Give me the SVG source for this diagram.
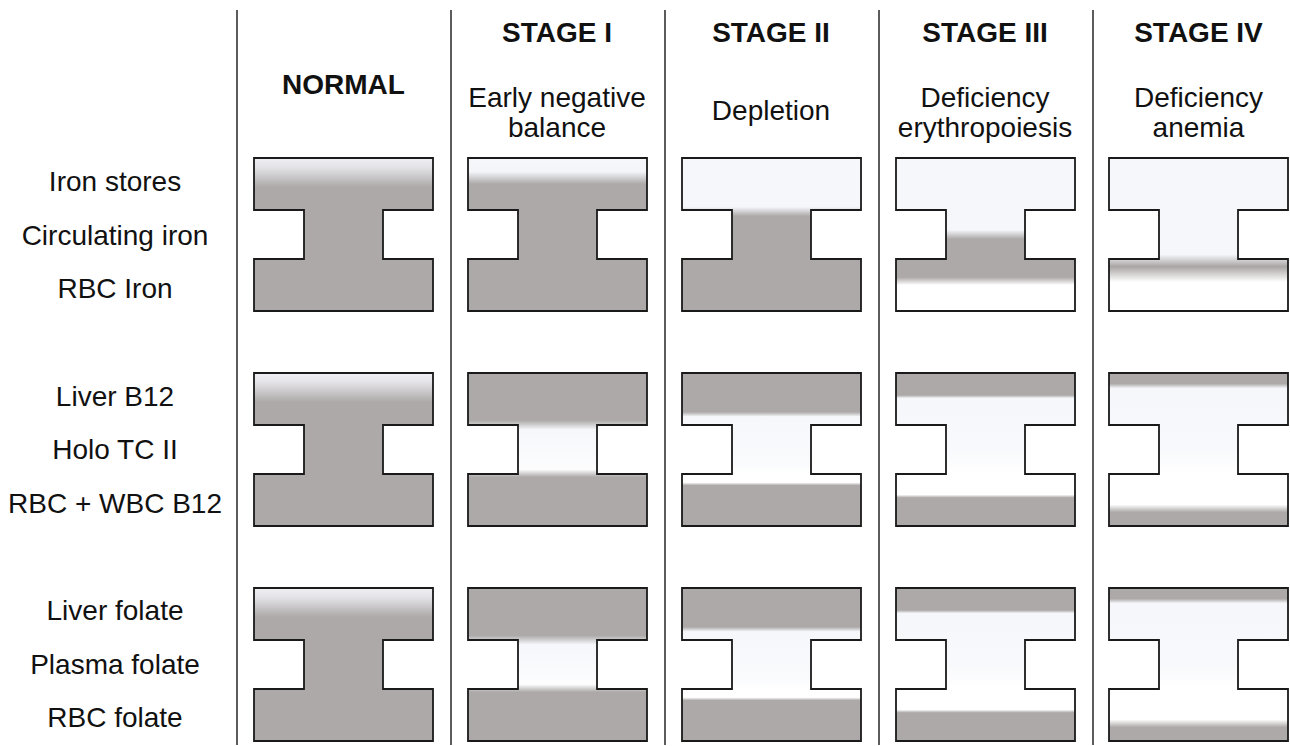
<svg xmlns="http://www.w3.org/2000/svg" width="1290" height="746" viewBox="0 0 1290 746">
<style>
.t{font-family:"Liberation Sans",Arial,sans-serif;font-size:28px;fill:#111;text-anchor:middle}
.b{font-weight:bold}
.beam{stroke:#1a1a1a;stroke-width:1.8;stroke-linejoin:miter}
.sep{stroke:#333;stroke-width:1.6;fill:none}
</style>
<defs>
<path id="ib" d="M0,0 H179 V52 H129 V101 H179 V153 H0 V101 H50 V52 H0 Z"/>
<linearGradient id="gN" x1="0" y1="0" x2="0" y2="1">
<stop offset="0" stop-color="#F0F0F4"/><stop offset="0.06" stop-color="#E4E4E8"/><stop offset="0.19" stop-color="#ADA9A8"/><stop offset="1" stop-color="#ADA9A8"/>
</linearGradient>
<linearGradient id="g1a" x1="0" y1="0" x2="0" y2="1">
<stop offset="0" stop-color="#F5F7FB"/><stop offset="0.09" stop-color="#F3F5F9"/><stop offset="0.17" stop-color="#ADA9A8"/><stop offset="1" stop-color="#ADA9A8"/>
</linearGradient>
<linearGradient id="g2a" x1="0" y1="0" x2="0" y2="1">
<stop offset="0" stop-color="#F5F7FB"/><stop offset="0.32" stop-color="#F5F7FB"/><stop offset="0.38" stop-color="#ADA9A8"/><stop offset="1" stop-color="#ADA9A8"/>
</linearGradient>
<linearGradient id="g3a" x1="0" y1="0" x2="0" y2="1">
<stop offset="0" stop-color="#F5F7FB"/><stop offset="0.47" stop-color="#F5F7FB"/><stop offset="0.53" stop-color="#ADA9A8"/><stop offset="0.78" stop-color="#ADA9A8"/><stop offset="0.83" stop-color="#FFFFFF"/><stop offset="1" stop-color="#FFFFFF"/>
</linearGradient>
<linearGradient id="g4a" x1="0" y1="0" x2="0" y2="1">
<stop offset="0" stop-color="#F5F7FB"/><stop offset="0.63" stop-color="#F5F7FB"/><stop offset="0.71" stop-color="#A9A5A4"/><stop offset="0.81" stop-color="#FFFFFF"/><stop offset="1" stop-color="#FFFFFF"/>
</linearGradient>
<linearGradient id="g1b" x1="0" y1="0" x2="0" y2="1">
<stop offset="0" stop-color="#ADA9A8"/><stop offset="0.31" stop-color="#ADA9A8"/><stop offset="0.37" stop-color="#F5F7FB"/><stop offset="0.63" stop-color="#FDFDFE"/><stop offset="0.68" stop-color="#ADA9A8"/><stop offset="1" stop-color="#ADA9A8"/>
</linearGradient>
<linearGradient id="g2b" x1="0" y1="0" x2="0" y2="1">
<stop offset="0" stop-color="#ADA9A8"/><stop offset="0.255" stop-color="#ADA9A8"/><stop offset="0.285" stop-color="#F5F7FB"/><stop offset="0.6" stop-color="#FAFBFD"/><stop offset="0.66" stop-color="#FFFFFF"/><stop offset="0.715" stop-color="#FFFFFF"/><stop offset="0.735" stop-color="#ADA9A8"/><stop offset="1" stop-color="#ADA9A8"/>
</linearGradient>
<linearGradient id="g3b" x1="0" y1="0" x2="0" y2="1">
<stop offset="0" stop-color="#ADA9A8"/><stop offset="0.145" stop-color="#ADA9A8"/><stop offset="0.165" stop-color="#F5F7FB"/><stop offset="0.5" stop-color="#F8F9FC"/><stop offset="0.65" stop-color="#FFFFFF"/><stop offset="0.795" stop-color="#FFFFFF"/><stop offset="0.815" stop-color="#ADA9A8"/><stop offset="1" stop-color="#ADA9A8"/>
</linearGradient>
<linearGradient id="g4b" x1="0" y1="0" x2="0" y2="1">
<stop offset="0" stop-color="#ADA9A8"/><stop offset="0.07" stop-color="#ADA9A8"/><stop offset="0.1" stop-color="#F5F7FB"/><stop offset="0.5" stop-color="#F8F9FC"/><stop offset="0.65" stop-color="#FFFFFF"/><stop offset="0.86" stop-color="#FFFFFF"/><stop offset="0.91" stop-color="#ADA9A8"/><stop offset="1" stop-color="#ADA9A8"/>
</linearGradient>
</defs>
<rect width="1290" height="746" fill="#FFFFFF"/>
<g id="separators">
<line class="sep" x1="237" y1="10" x2="237" y2="745"/>
<line class="sep" x1="451" y1="10" x2="451" y2="745"/>
<line class="sep" x1="665" y1="10" x2="665" y2="745"/>
<line class="sep" x1="879" y1="10" x2="879" y2="745"/>
<line class="sep" x1="1093" y1="10" x2="1093" y2="745"/>
</g>
<g id="headers">
<text class="t b" x="343.5" y="94">NORMAL</text>
<text class="t b" x="557" y="42">STAGE I</text>
<text class="t" x="557" y="107">Early negative</text>
<text class="t" x="557" y="137">balance</text>
<text class="t b" x="771" y="42">STAGE II</text>
<text class="t" x="771" y="120">Depletion</text>
<text class="t b" x="985" y="42">STAGE III</text>
<text class="t" x="985" y="107">Deficiency</text>
<text class="t" x="985" y="137">erythropoiesis</text>
<text class="t b" x="1198.5" y="42">STAGE IV</text>
<text class="t" x="1198.5" y="107">Deficiency</text>
<text class="t" x="1198.5" y="137">anemia</text>
</g>
<g id="row-labels">
<text class="t" x="115" y="191">Iron stores</text>
<text class="t" x="115" y="245">Circulating iron</text>
<text class="t" x="115" y="298">RBC Iron</text>
<text class="t" x="115" y="406">Liver B12</text>
<text class="t" x="115" y="459">Holo TC II</text>
<text class="t" x="115" y="513">RBC + WBC B12</text>
<text class="t" x="115" y="620">Liver folate</text>
<text class="t" x="115" y="674">Plasma folate</text>
<text class="t" x="115" y="727">RBC folate</text>
</g>
<g id="iron-normal"><use href="#ib" class="beam" fill="url(#gN)" x="254" y="158"/></g>
<g id="iron-stage1"><use href="#ib" class="beam" fill="url(#g1a)" x="468" y="158"/></g>
<g id="iron-stage2"><use href="#ib" class="beam" fill="url(#g2a)" x="682" y="158"/></g>
<g id="iron-stage3"><use href="#ib" class="beam" fill="url(#g3a)" x="896" y="158"/></g>
<g id="iron-stage4"><use href="#ib" class="beam" fill="url(#g4a)" x="1109" y="158"/></g>
<g id="b12-normal"><use href="#ib" class="beam" fill="url(#gN)" x="254" y="373"/></g>
<g id="b12-stage1"><use href="#ib" class="beam" fill="url(#g1b)" x="468" y="373"/></g>
<g id="b12-stage2"><use href="#ib" class="beam" fill="url(#g2b)" x="682" y="373"/></g>
<g id="b12-stage3"><use href="#ib" class="beam" fill="url(#g3b)" x="896" y="373"/></g>
<g id="b12-stage4"><use href="#ib" class="beam" fill="url(#g4b)" x="1109" y="373"/></g>
<g id="folate-normal"><use href="#ib" class="beam" fill="url(#gN)" x="254" y="588"/></g>
<g id="folate-stage1"><use href="#ib" class="beam" fill="url(#g1b)" x="468" y="588"/></g>
<g id="folate-stage2"><use href="#ib" class="beam" fill="url(#g2b)" x="682" y="588"/></g>
<g id="folate-stage3"><use href="#ib" class="beam" fill="url(#g3b)" x="896" y="588"/></g>
<g id="folate-stage4"><use href="#ib" class="beam" fill="url(#g4b)" x="1109" y="588"/></g>
</svg>
